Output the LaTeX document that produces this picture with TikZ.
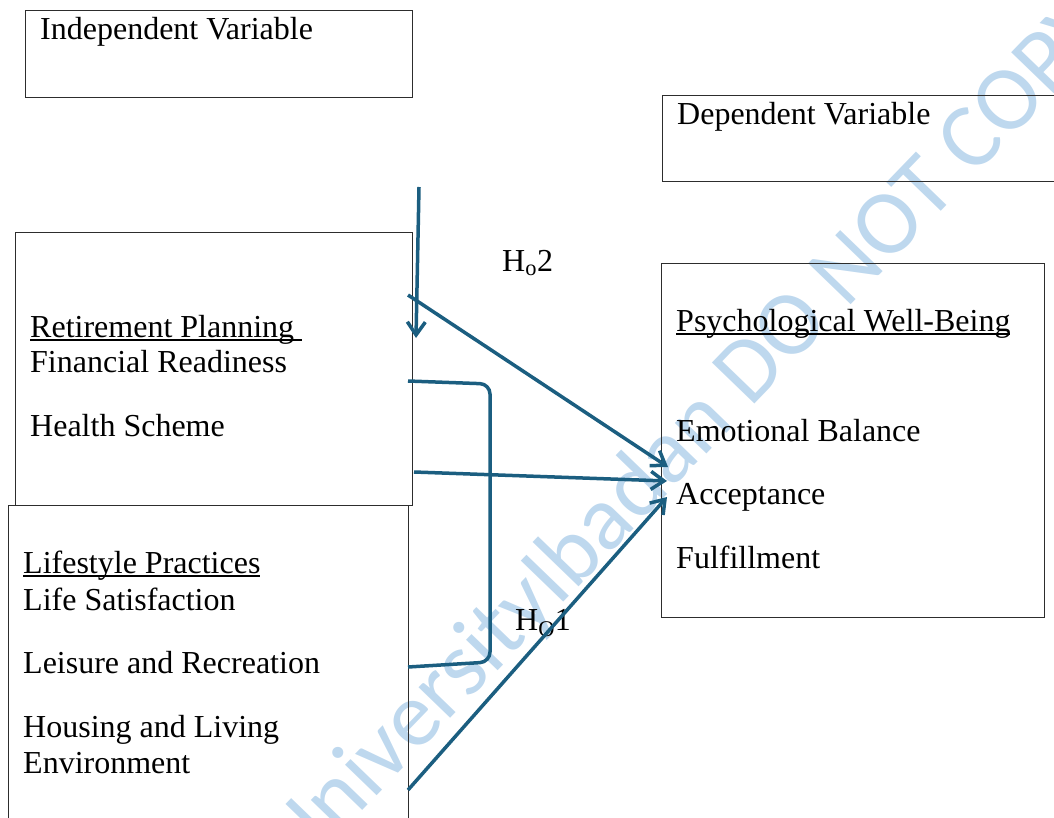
\documentclass[tikz,border=0pt]{standalone}
\usepackage{fontspec}
\setmainfont{Liberation Serif}
\newfontfamily\wmfont{Carlito}
\usetikzlibrary{arrows.meta}
\definecolor{arrowblue}{RGB}{27,94,128}
\definecolor{wmblue}{RGB}{190,216,238}
\definecolor{boxgray}{RGB}{45,45,45}
\newcommand{\myul}[1]{\setbox0\hbox{#1}\rlap{\rule[-3.5pt]{\wd0}{1.4pt}}\box0}
\begin{document}
\begin{tikzpicture}[x=1pt,y=-1pt,
  boxnode/.style={draw=boxgray, line width=1.3pt, anchor=north west, inner sep=0pt},
  txt/.style={anchor=base west, inner sep=0pt, font=\fontsize{32}{38}\selectfont},
  arr/.style={draw=arrowblue, line width=3.5pt, -{Straight Barb[length=13pt,width=18pt]}},
  link/.style={draw=arrowblue, line width=3.5pt, rounded corners=10pt}]
\clip (0,0) rectangle (1054,818);
% watermark
\node[font=\wmfont\fontsize{92}{100}\selectfont, text=wmblue, rotate=46, inner sep=0pt] (wm) at (688,438) {UniversityIbadan DO NOT COPY};
% boxes
\node[boxnode, minimum width=387pt, minimum height=87pt] (iv) at (25,10) {};
\node[boxnode, minimum width=450pt, minimum height=86pt] (dv) at (662,95) {};
\node[boxnode, minimum width=397pt, minimum height=273pt] (ret) at (15,232) {};
\node[boxnode, minimum width=400pt, minimum height=350pt] (life) at (8,505) {};
\node[boxnode, minimum width=383pt, minimum height=354pt] (psy) at (661,263) {};
% texts
\node[txt] (tiv) at (40,40) {Independent Variable};
\node[txt] (tdv) at (677,125) {Dependent Variable};
\node[txt] (tret) at (30,337) {\myul{Retirement Planning\ }};
\node[txt] (tfin) at (30,372) {Financial Readiness};
\node[txt] (thea) at (30,436) {Health Scheme};
\node[txt] (tlife) at (23,573) {\myul{Lifestyle Practices}};
\node[txt] (tsat) at (23,610) {Life Satisfaction};
\node[txt] (tlei) at (23,673) {Leisure and Recreation};
\node[txt] (thou) at (23,737) {Housing and Living};
\node[txt] (tenv) at (23,773) {Environment};
\node[txt] (tpsy) at (676,331) {\myul{Psychological Well-Being}};
\node[txt] (temo) at (676,441) {Emotional Balance};
\node[txt] (tacc) at (676,504) {Acceptance};
\node[txt] (tful) at (676,568) {Fulfillment};
\node[txt] (h2) at (502,272) {H\textsubscript{o}2};
\node[txt] (h1) at (515,630) {H\textsubscript{O}1};
% connector end points
\coordinate (vtop) at (419,187);
\coordinate (vtip) at (416,338);
\coordinate (a2s) at (408,295);
\coordinate (a2e) at (668,467);
\coordinate (a3s) at (414,472);
\coordinate (a3e) at (667,481);
\coordinate (a4s) at (408,790);
\coordinate (a4e) at (667,497);
\coordinate (b1) at (408,381);
\coordinate (b2) at (490,384);
\coordinate (b3) at (490,662);
\coordinate (b4) at (408,667);
% connectors
\draw[arr] (vtop) -- (vtip);
\draw[arr] (a2s) -- (a2e);
\draw[arr] (a3s) -- (a3e);
\draw[arr] (a4s) -- (a4e);
\draw[link] (b1) -- (b2) -- (b3) -- (b4);
\end{tikzpicture}
\end{document}
